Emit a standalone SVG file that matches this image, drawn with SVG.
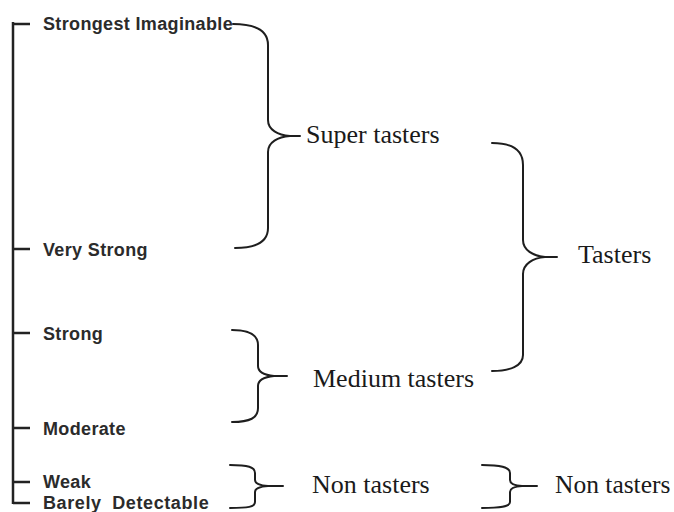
<svg xmlns="http://www.w3.org/2000/svg" width="674" height="512" viewBox="0 0 674 512">
<style>
.lbl{font-family:"Liberation Sans",Arial,sans-serif;font-weight:bold;font-size:18px;fill:#2b2b2b;letter-spacing:0.35px}
.grp{font-family:"Liberation Serif","Times New Roman",serif;font-size:26px;fill:#1a1a1a}
.ax{stroke:#222;stroke-width:2.5;fill:none}
.br{stroke:#1e1e1e;stroke-width:2;fill:none;stroke-linecap:round}
</style>
<rect width="674" height="512" fill="#fff"/>
<g id="scale">
<path class="ax" d="M13,22 V504 M13,24 H30 M13,249 H30 M13,333 H30 M13,428 H30 M13,482 H30 M13,503 H30"/>
<text class="lbl" x="43" y="30">Strongest Imaginable</text>
<text class="lbl" x="43" y="256">Very Strong</text>
<text class="lbl" x="43" y="340">Strong</text>
<text class="lbl" x="43" y="435">Moderate</text>
<text class="lbl" x="43" y="488">Weak</text>
<text class="lbl" x="43" y="509" style="word-spacing:5px;letter-spacing:0.6px">Barely Detectable</text>
</g>
<g id="connectors">
<path class="br" d="M233,24 C255,24 268,30 268,45 L268,120 C268,130 278,135 290,136 L300,136 M290,136 C278,137 268,142 268,152 L268,228 C268,242 255,248 235,248"/>
<path class="br" d="M492,143 C512,143 523,150 523,165 L523,240 C523,250 533,256 545,257 L557,257 M545,257 C533,258 523,264 523,274 L523,355 C523,366 510,371 492,371"/>
<path class="br" d="M232,330 C250,330 258,335 258,345 L258,366 C258,372 264,375 274,376 L287,376 M274,376 C264,377 258,380 258,386 L258,408 C258,418 250,422 232,422"/>
<path class="br" d="M230,465 C248,465 255,467 255,473 L255,480 C255,484 260,485.5 268,486 L283,486 M268,486 C260,486.5 255,488 255,492 L255,502 C255,507 248,508 230,508"/>
<path class="br" d="M482,465 C500,465 510,467 510,473 L510,480 C510,484 514,485.5 522,486 L537,486 M522,486 C514,486.5 510,488 510,492 L510,502 C510,507 500,508 482,508"/>
</g>
<g id="super"><text class="grp" x="306" y="143">Super tasters</text></g>
<g id="tasters"><text class="grp" x="578" y="263">Tasters</text></g>
<g id="medium"><text class="grp" x="313" y="387">Medium tasters</text></g>
<g id="non1"><text class="grp" x="312" y="493">Non tasters</text></g>
<g id="non2"><text class="grp" x="555" y="493" style="font-size:25.5px">Non tasters</text></g>
</svg>
